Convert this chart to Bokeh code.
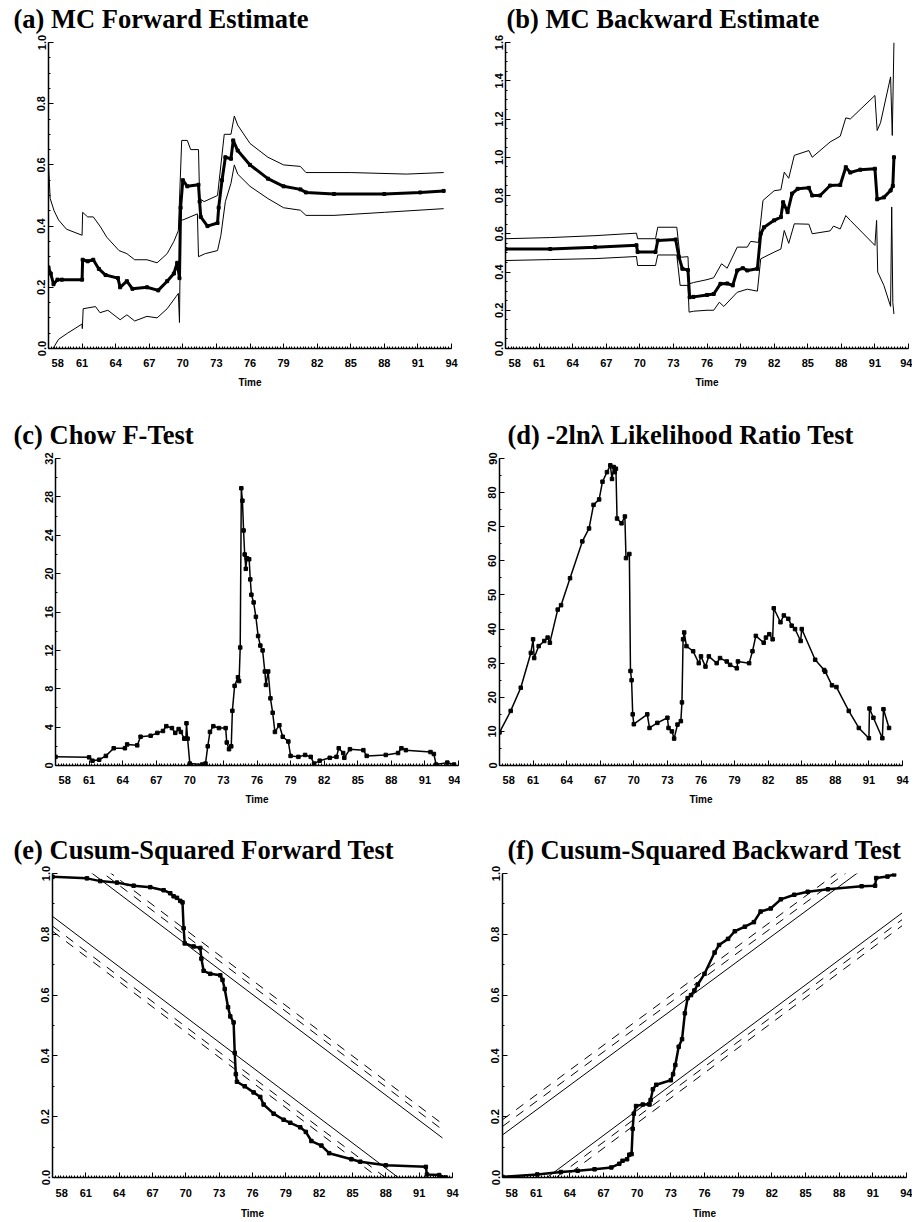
from bokeh.plotting import figure
from bokeh.layouts import column, row
from bokeh.models import FixedTicker, PrintfTickFormatter, Range1d
from bokeh.embed import file_html
from bokeh.resources import INLINE

# ---------------- data (year, value) ----------------
x_major = [58, 61, 64, 67, 70, 73, 76, 79, 82, 85, 88, 91, 94]
x_minor = [58 + 0.25 * i for i in range(145)]

a_mid = [(58.0, 0.265), (58.2, 0.245), (58.45, 0.21), (58.8, 0.225), (59.2, 0.225), (61.0, 0.225),
         (61.05, 0.29), (61.5, 0.285), (62.0, 0.29), (62.5, 0.26), (63.1, 0.24), (64.2, 0.23),
         (64.4, 0.20), (65.0, 0.22), (65.5, 0.195), (66.8, 0.20), (67.8, 0.19), (68.6, 0.22),
         (69.2, 0.245), (69.5, 0.28), (69.7, 0.23), (69.8, 0.46), (70.0, 0.55), (70.4, 0.53),
         (71.4, 0.535), (71.5, 0.48), (71.6, 0.43), (72.2, 0.40), (73.1, 0.41), (73.2, 0.46),
         (73.5, 0.55), (73.8, 0.625), (74.3, 0.62), (74.5, 0.68), (74.9, 0.647), (76.0, 0.60),
         (77.6, 0.555), (79.0, 0.53), (80.5, 0.52), (81.0, 0.51), (83.5, 0.505), (88.0, 0.505),
         (91.2, 0.51), (93.3, 0.515)]
a_upper = [(58.0, 0.60), (58.15, 0.49), (58.5, 0.45), (58.9, 0.42), (59.6, 0.39), (61.0, 0.37),
           (61.05, 0.445), (61.5, 0.43), (62.0, 0.43), (62.6, 0.40), (63.2, 0.364), (64.3, 0.32),
           (65.0, 0.31), (65.7, 0.29), (66.8, 0.29), (67.7, 0.28), (68.6, 0.31), (69.2, 0.35),
           (69.6, 0.385), (69.9, 0.68), (70.4, 0.68), (70.7, 0.65), (71.4, 0.65), (71.5, 0.49),
           (71.9, 0.48), (73.1, 0.50), (73.4, 0.60), (73.7, 0.70), (74.3, 0.70), (74.6, 0.76),
           (74.9, 0.73), (76.0, 0.67), (77.6, 0.625), (79.0, 0.60), (80.5, 0.595), (81.0, 0.575),
           (85.0, 0.575), (90.0, 0.57), (93.3, 0.575)]
a_lower = [(58.0, 0.0), (58.4, 0.0), (58.9, 0.03), (59.7, 0.05), (61.0, 0.08), (61.02, 0.065),
           (61.1, 0.13), (62.2, 0.137), (62.6, 0.117), (63.3, 0.125), (64.4, 0.094), (65.0, 0.11),
           (65.7, 0.09), (66.8, 0.105), (67.7, 0.10), (68.6, 0.13), (69.4, 0.17), (69.6, 0.18),
           (69.7, 0.085), (69.8, 0.42), (70.0, 0.42), (71.3, 0.44), (71.4, 0.30), (72.0, 0.31),
           (73.1, 0.32), (73.4, 0.37), (73.8, 0.48), (74.3, 0.54), (74.6, 0.60), (74.9, 0.57),
           (76.0, 0.53), (77.6, 0.49), (79.0, 0.46), (80.5, 0.452), (81.0, 0.435), (83.5, 0.435),
           (88.0, 0.445), (93.3, 0.457)]

b_mid = [(58.0, 0.52), (62.0, 0.52), (66.0, 0.53), (69.7, 0.54), (69.8, 0.505), (71.4, 0.505),
         (71.6, 0.565), (73.2, 0.57), (73.5, 0.477), (73.8, 0.417), (74.3, 0.41), (74.45, 0.268),
         (74.8, 0.27), (76.0, 0.28), (76.6, 0.285), (77.2, 0.338), (77.8, 0.34), (78.3, 0.33),
         (78.7, 0.408), (79.2, 0.42), (79.6, 0.408), (80.5, 0.417), (80.8, 0.60), (81.1, 0.634),
         (82.0, 0.67), (82.6, 0.687), (82.8, 0.765), (83.2, 0.713), (83.6, 0.81), (84.1, 0.835),
         (85.1, 0.84), (85.4, 0.80), (86.1, 0.80), (87.0, 0.852), (87.9, 0.855), (88.4, 0.948),
         (88.8, 0.92), (89.7, 0.935), (91.0, 0.94), (91.2, 0.78), (91.8, 0.79), (92.4, 0.826),
         (92.6, 0.85), (92.7, 1.0)]
b_upper = [(58.0, 0.574), (62.0, 0.58), (66.0, 0.59), (69.7, 0.603), (69.8, 0.574), (71.4, 0.574),
           (71.6, 0.634), (73.3, 0.634), (73.6, 0.477), (74.3, 0.48), (74.4, 0.338), (74.8, 0.345),
           (76.0, 0.36), (76.6, 0.37), (77.3, 0.443), (77.8, 0.42), (78.7, 0.53), (79.6, 0.53),
           (79.9, 0.56), (80.6, 0.555), (81.0, 0.774), (82.0, 0.825), (82.6, 0.83), (82.9, 0.922),
           (83.3, 0.89), (83.8, 1.01), (85.1, 1.035), (85.4, 1.0), (87.0, 1.08), (87.9, 1.11),
           (88.4, 1.206), (88.8, 1.2), (91.0, 1.323), (91.2, 1.14), (91.5, 1.18), (92.4, 1.42),
           (92.55, 1.114), (92.7, 1.6)]
b_lower = [(58.0, 0.46), (62.0, 0.465), (66.0, 0.47), (69.7, 0.481), (69.8, 0.434), (71.4, 0.434),
           (71.6, 0.489), (73.3, 0.489), (73.6, 0.33), (74.3, 0.33), (74.4, 0.19), (74.8, 0.195),
           (76.0, 0.20), (76.6, 0.20), (77.1, 0.242), (77.5, 0.22), (78.7, 0.294), (79.6, 0.31),
           (80.5, 0.30), (80.8, 0.469), (82.0, 0.504), (82.6, 0.52), (82.9, 0.617), (83.3, 0.55),
           (83.8, 0.652), (85.1, 0.65), (85.4, 0.60), (87.0, 0.615), (87.3, 0.64), (87.9, 0.625),
           (88.4, 0.695), (88.8, 0.67), (91.0, 0.539), (91.15, 0.67), (91.25, 0.40), (91.8, 0.33),
           (92.4, 0.22), (92.5, 0.74), (92.6, 0.24), (92.7, 0.18)]

c_chow = [(58.0, 0.9), (61.0, 0.85), (61.3, 0.5), (61.9, 0.6), (62.5, 1.0), (63.2, 1.8), (64.2, 1.8),
          (64.4, 2.2), (65.3, 2.1), (65.6, 3.0), (66.5, 3.1), (67.1, 3.4), (67.6, 3.6), (67.9, 4.1),
          (68.4, 3.9), (68.7, 3.4), (69.0, 3.8), (69.2, 3.5), (69.5, 2.8), (69.65, 2.8), (69.7, 4.4),
          (69.8, 2.8), (70.0, 0.2), (71.1, 0.1), (71.4, 0.2), (71.6, 2.0), (71.8, 3.5), (72.1, 4.1),
          (72.6, 3.9), (73.2, 3.9), (73.3, 2.4), (73.5, 1.7), (73.7, 2.0), (73.8, 5.7), (74.0, 8.3),
          (74.3, 9.2), (74.4, 8.8), (74.5, 12.3), (74.6, 28.9), (74.7, 27.6), (74.8, 24.5),
          (74.9, 22.0), (75.0, 20.5), (75.1, 21.6), (75.3, 21.5), (75.4, 19.4), (75.5, 17.8),
          (75.7, 17.0), (75.9, 15.5), (76.1, 13.5), (76.3, 12.5), (76.5, 12.0), (76.7, 9.8),
          (76.8, 8.4), (77.0, 9.8), (77.2, 7.0), (77.4, 5.5), (77.6, 3.5), (78.0, 4.2), (78.3, 3.0),
          (78.8, 2.5), (79.0, 1.0), (79.7, 0.9), (80.3, 1.1), (80.8, 0.9), (81.1, 0.2), (81.6, 0.5),
          (82.5, 0.8), (83.1, 0.9), (83.3, 1.8), (83.7, 1.3), (83.8, 0.8), (84.3, 1.7), (85.5, 1.6),
          (85.8, 1.0), (87.5, 1.1), (88.6, 1.3), (88.9, 1.8), (89.3, 1.6), (91.5, 1.4), (91.8, 1.2),
          (92.0, 0.1), (93.0, 0.3), (93.6, 0.1)]

d_lr = [(58.0, 9.7), (59.0, 16.0), (59.9, 22.8), (60.8, 33.0), (61.0, 37.0), (61.1, 31.5),
        (61.5, 35.0), (62.0, 36.5), (62.3, 37.5), (62.5, 36.0), (63.2, 45.7), (63.5, 47.0),
        (64.3, 54.9), (65.4, 65.7), (66.0, 69.5), (66.4, 76.4), (66.9, 78.0), (67.2, 83.2),
        (67.6, 86.0), (67.9, 88.0), (68.05, 84.0), (68.2, 87.5), (68.3, 86.0), (68.4, 87.0),
        (68.5, 72.4), (68.9, 71.0), (69.2, 73.0), (69.3, 60.8), (69.6, 62.0), (69.7, 27.7),
        (69.8, 25.0), (69.9, 15.0), (70.0, 12.1), (71.2, 15.0), (71.4, 11.0), (72.1, 12.5),
        (73.0, 14.0), (73.1, 11.0), (73.4, 10.0), (73.6, 7.9), (73.9, 12.0), (74.2, 13.0),
        (74.3, 18.5), (74.4, 37.0), (74.5, 39.0), (74.7, 35.0), (75.3, 33.5), (75.8, 30.0),
        (76.0, 32.0), (76.4, 29.0), (76.7, 32.0), (77.4, 30.0), (77.7, 31.5), (78.3, 30.5),
        (78.6, 29.5), (79.2, 28.5), (79.3, 30.5), (80.3, 30.0), (80.6, 33.5), (80.9, 38.0),
        (81.6, 36.0), (81.8, 37.5), (82.1, 38.5), (82.4, 37.0), (82.5, 46.1), (83.1, 42.0),
        (83.4, 44.0), (83.8, 43.0), (84.1, 41.0), (84.4, 40.0), (84.9, 36.5), (85.0, 40.0),
        (86.2, 31.0), (87.0, 28.0), (87.1, 27.5), (87.7, 23.5), (88.1, 23.0), (89.2, 16.0),
        (90.1, 11.0), (91.0, 8.0), (91.05, 16.7), (91.4, 14.0), (92.2, 8.0), (92.3, 16.5),
        (92.8, 11.0)]

e_cusum = [(58.0, 0.989), (61.1, 0.984), (62.3, 0.975), (63.8, 0.97), (65.3, 0.96), (66.8, 0.955),
           (68.0, 0.945), (68.6, 0.935), (68.9, 0.925), (69.2, 0.92), (69.5, 0.91), (69.7, 0.905),
           (69.8, 0.82), (69.9, 0.77), (70.7, 0.76), (71.3, 0.755), (71.4, 0.72), (71.6, 0.68),
           (72.2, 0.67), (73.1, 0.665), (73.3, 0.65), (73.5, 0.62), (73.8, 0.56), (74.0, 0.53),
           (74.3, 0.51), (74.4, 0.41), (74.5, 0.34), (74.6, 0.315), (75.3, 0.30), (76.1, 0.28),
           (76.7, 0.265), (77.0, 0.24), (77.9, 0.21), (78.8, 0.19), (79.4, 0.18), (80.3, 0.165),
           (80.8, 0.15), (81.3, 0.12), (82.2, 0.105), (82.9, 0.08), (84.9, 0.06), (85.7, 0.052),
           (88.0, 0.04), (91.6, 0.035), (91.7, 0.01), (92.8, 0.008), (93.4, 0.0)]
# boundary lines: (x0, y0, x1, y1, dashed?)
e_bounds = [(58.0, 1.099, 93.1, 0.130, False), (58.0, 1.127, 93.1, 0.157, True),
            (58.0, 1.146, 93.1, 0.176, True), (58.0, 0.859, 93.1, -0.110, False),
            (58.0, 0.827, 93.1, -0.142, True), (58.0, 0.810, 93.1, -0.160, True)]

f_cusum = [(58.0, 0.002), (61.1, 0.01), (63.2, 0.018), (64.7, 0.022), (66.2, 0.027), (67.7, 0.033),
           (68.4, 0.045), (68.7, 0.055), (69.1, 0.06), (69.3, 0.075), (69.5, 0.077), (69.6, 0.16),
           (69.7, 0.21), (69.9, 0.235), (70.5, 0.24), (71.1, 0.24), (71.2, 0.255), (71.4, 0.29),
           (71.7, 0.305), (73.0, 0.32), (73.2, 0.34), (73.4, 0.37), (73.7, 0.43), (74.0, 0.455),
           (74.25, 0.54), (74.5, 0.59), (74.8, 0.60), (75.1, 0.615), (75.4, 0.635), (76.0, 0.67),
           (76.9, 0.74), (77.3, 0.765), (78.1, 0.785), (78.7, 0.81), (79.6, 0.825), (80.4, 0.84),
           (81.0, 0.875), (81.9, 0.885), (82.8, 0.915), (84.0, 0.93), (85.2, 0.94), (87.0, 0.948),
           (90.0, 0.958), (91.2, 0.96), (91.3, 0.985), (92.3, 0.99), (92.9, 0.997)]
f_bounds = [(58.0, 0.140, 93.6, 1.110, False), (58.0, 0.168, 93.6, 1.138, True),
            (58.0, 0.190, 93.6, 1.160, True), (58.0, -0.109, 93.6, 0.870, False),
            (58.0, -0.131, 93.6, 0.848, True), (58.0, -0.151, 93.6, 0.828, True)]

TITLE_FONT = "Liberation Serif"
TICK_FONT = "Liberation Sans"
NBSP = "\u00a0"


def xs(pairs):
    return [p[0] for p in pairs]


def ys(pairs):
    return [p[1] for p in pairs]


def make_fig(title, ylim, yticks, yminor, fmt, width, height, left, top, bottom, frame_w, title_off,
             lab_standoff=8, ax_standoff=5):
    right = width - left - frame_w
    p = figure(width=width, height=height, output_backend="svg", toolbar_location=None,
               x_range=Range1d(58, 94), y_range=Range1d(*ylim),
               min_border_left=left, min_border_right=right, min_border_top=top,
               min_border_bottom=bottom, tools="")
    p.title.text = title
    p.title.text_font = TITLE_FONT
    p.title.text_font_size = "26.5px"
    p.title.text_font_style = "bold"
    p.title.text_color = "black"
    p.title.align = "left"
    p.title.offset = title_off
    p.title.standoff = 18
    p.outline_line_color = None
    p.grid.visible = False
    p.background_fill_color = "white"
    p.border_fill_color = "white"

    p.xaxis.ticker = FixedTicker(ticks=x_major, minor_ticks=x_minor)
    p.xaxis.major_label_overrides = {x_major[0]: NBSP * 6 + str(x_major[0])}
    p.yaxis.ticker = FixedTicker(ticks=yticks, minor_ticks=yminor)
    p.yaxis.formatter = PrintfTickFormatter(format=fmt)
    p.yaxis.major_label_orientation = "vertical"
    for ax in (p.xaxis[0], p.yaxis[0]):
        ax.axis_line_color = "black"
        ax.axis_line_width = 1.5
        ax.major_tick_line_color = "black"
        ax.minor_tick_line_color = "black"
        ax.major_tick_in = 5
        ax.major_tick_out = 0
        ax.minor_tick_in = 2
        ax.minor_tick_out = 0
        ax.major_label_text_font = TICK_FONT
        ax.major_label_text_font_style = "bold"
        ax.major_label_text_font_size = "11px"
        ax.major_label_text_color = "black"
    p.yaxis.major_label_standoff = 3
    p.xaxis.major_label_standoff = lab_standoff
    p.xaxis.axis_label = "Time"
    p.xaxis.axis_label_text_font = TICK_FONT
    p.xaxis.axis_label_text_font_style = "bold"
    p.xaxis.axis_label_text_font_size = "10px"
    p.xaxis.axis_label_text_color = "black"
    p.xaxis.axis_label_standoff = ax_standoff
    return p


def steps(lo, hi, st):
    out = []
    v = lo
    while v <= hi + 1e-9:
        out.append(round(v, 6))
        v += st
    return out


DASH = "9 8"

# row 1 canvases start 10px above the page top (column margin below) so the title fits
pa = make_fig("(a) MC Forward Estimate", (0, 1.0), steps(0, 1, 0.2), steps(0, 1, 0.05), "%.1f",
              460, 410, 48, 52, 52, 403, -35)
pa.line(xs(a_upper), ys(a_upper), color="black", line_width=1)
pa.line(xs(a_lower), ys(a_lower), color="black", line_width=1)
pa.line(xs(a_mid), ys(a_mid), color="black", line_width=3)
pa.scatter(xs(a_mid), ys(a_mid), marker="square", size=3, color="black")

pb = make_fig("(b) MC Backward Estimate", (0, 1.6), steps(0, 1.6, 0.2), steps(0, 1.6, 0.05), "%.1f",
              452, 410, 45, 52, 52, 403, 1)
pb.line(xs(b_upper), ys(b_upper), color="black", line_width=1)
pb.line(xs(b_lower), ys(b_lower), color="black", line_width=1)
pb.line(xs(b_mid), ys(b_mid), color="black", line_width=3)
pb.scatter(xs(b_mid), ys(b_mid), marker="square", size=3, color="black")

pc = make_fig("(c) Chow F-Test", (0, 32), steps(0, 32, 4), steps(0, 32, 2), "%d",
              460, 410, 55, 58, 45, 403, -42)
pc.line(xs(c_chow), ys(c_chow), color="black", line_width=1.5)
pc.scatter(xs(c_chow), ys(c_chow), marker="square", size=3.5, color="black")

pd_ = make_fig("(d) -2ln\u03bb Likelihood Ratio Test", (0, 90), steps(0, 90, 10), steps(0, 90, 5), "%d",
               452, 410, 39, 58, 43, 403, 8)
pd_.line(xs(d_lr), ys(d_lr), color="black", line_width=1.5)
pd_.scatter(xs(d_lr), ys(d_lr), marker="square", size=3.5, color="black")

pe = make_fig("(e) Cusum-Squared Forward Test", (0, 1.0), steps(0, 1, 0.2), steps(0, 1, 0.1), "%.1f",
              460, 411, 52, 63, 41, 400, -39, 9, 6)
for x0, y0, x1, y1, dashed in e_bounds:
    pe.line([x0, x1], [y0, y1], color="black", line_width=1, line_dash=DASH if dashed else "solid")
pe.line(xs(e_cusum), ys(e_cusum), color="black", line_width=2.5)
pe.scatter(xs(e_cusum), ys(e_cusum), marker="square", size=3.5, color="black")

pf = make_fig("(f) Cusum-Squared Backward Test", (0, 1.0), steps(0, 1, 0.2), steps(0, 1, 0.1), "%.1f",
              452, 411, 42, 63, 41, 404, 5, 9, 6)
for x0, y0, x1, y1, dashed in f_bounds:
    pf.line([x0, x1], [y0, y1], color="black", line_width=1, line_dash=DASH if dashed else "solid")
pf.line(xs(f_cusum), ys(f_cusum), color="black", line_width=2.5)
pf.scatter(xs(f_cusum), ys(f_cusum), marker="square", size=3.5, color="black")

layout = column(row(pa, pb), row(pc, pd_), row(pe, pf), margin=(-10, 0, 0, 0))
open("out.html", "w").write(file_html(layout, INLINE))
